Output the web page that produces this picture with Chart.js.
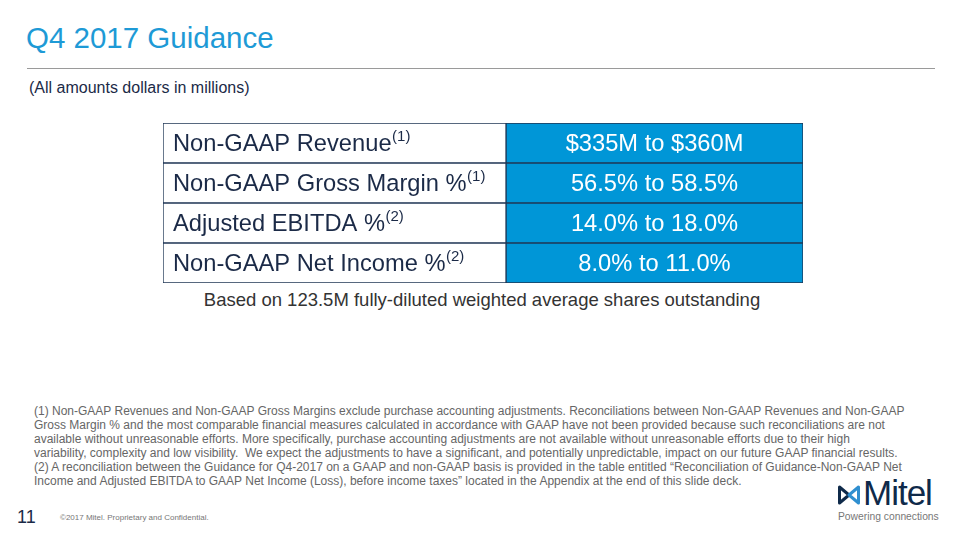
<!DOCTYPE html>
<html>
<head>
<meta charset="utf-8">
<script src="https://cdn.jsdelivr.net/npm/chart.js@4/dist/chart.umd.min.js"></script>
<style>
  body { margin: 0; width: 960px; height: 540px; background: #fff; position: relative; overflow: hidden;
         font-family: "Liberation Sans", Arial, sans-serif; }
  .abs { position: absolute; }
  #title { left: 26px; top: 21px; font-size: 29.5px; color: #1E9AD6; }
  #rule { left: 27px; top: 68px; width: 908px; height: 1px; background: #9a9a9a; }
  #sub { left: 29px; top: 79px; font-size: 16px; color: #1B2A47; }
  #wrap { left: 161px; top: 121px; width: 644px; height: 164px; }
  #basis { left: 0; width: 964px; top: 289px; text-align: center; font-size: 18.5px; color: #333; }
  #notes { left: 34px; top: 404px; font-size: 12px; line-height: 14px; color: #666; white-space: nowrap; }
  #page { left: 17px; top: 507px; font-size: 18px; color: #1B2A47; }
  #copy { left: 60px; top: 513px; font-size: 8px; color: #777; }
  #logo { left: 837px; top: 473px; font-size: 35px; color: #0F2A4A; letter-spacing: -1px; }
  #tag { left: 838px; top: 511px; font-size: 10.3px; color: #777; }
</style>
</head>
<body>
<div id="title" class="abs">Q4 2017 Guidance</div>
<div id="rule" class="abs"></div>
<div id="sub" class="abs">(All amounts dollars in millions)</div>
<div id="wrap" class="abs"><canvas id="table"></canvas></div>
<div id="basis" class="abs">Based on 123.5M fully-diluted weighted average shares outstanding</div>
<div id="notes" class="abs">(1) Non-GAAP Revenues and Non-GAAP Gross Margins exclude purchase accounting adjustments. Reconciliations between Non-GAAP Revenues and Non-GAAP<br>Gross Margin % and the most comparable financial measures calculated in accordance with GAAP have not been provided because such reconciliations are not<br>available without unreasonable efforts. More specifically, purchase accounting adjustments are not available without unreasonable efforts due to their high<br>variability, complexity and low visibility.&nbsp; We expect the adjustments to have a significant, and potentially unpredictable, impact on our future GAAP financial results.<br>(2) A reconciliation between the Guidance for Q4-2017 on a GAAP and non-GAAP basis is provided in the table entitled “Reconciliation of Guidance-Non-GAAP Net<br>Income and Adjusted EBITDA to GAAP Net Income (Loss), before income taxes” located in the Appendix at the end of this slide deck.</div>
<div id="page" class="abs">11</div>
<div id="copy" class="abs">©2017 Mitel. Proprietary and Confidential.</div>
<div id="logo" class="abs"><svg width="24" height="22" viewBox="0 0 24 22" style="vertical-align:-1px;margin-right:2px"><path d="M2.5 3 L12 11 L2.5 19 Z" fill="none" stroke="#0F2A4A" stroke-width="3" stroke-linejoin="round"/><path d="M21.5 3 L12 11 L21.5 19 Z" fill="none" stroke="#2F8FD0" stroke-width="3" stroke-linejoin="round"/></svg>Mitel</div>
<div id="tag" class="abs">Powering connections</div>

<script>
const metrics = ['Non-GAAP Revenue', 'Non-GAAP Gross Margin %', 'Adjusted EBITDA %', 'Non-GAAP Net Income %'];
const footnoteRefs = ['(1)', '(1)', '(2)', '(2)'];
const guidance = ['$335M to $360M', '56.5% to 58.5%', '14.0% to 18.0%', '8.0% to 11.0%'];

// column split of the table (share of the width)
const split = 0.536;
const border = '#1F3655';

const cellText = {
  id: 'cellText',
  afterDatasetsDraw(chart) {
    const ctx = chart.ctx;
    ctx.save();
    ctx.textBaseline = 'middle';
    chart.getDatasetMeta(0).data.forEach((bar, i) => {
      const x = Math.min(bar.x, bar.base) + 10;
      ctx.font = '23.7px "Liberation Sans", Arial, sans-serif';
      ctx.fillStyle = '#1B2A47';
      ctx.textAlign = 'left';
      ctx.fillText(metrics[i], x, bar.y + 1);
      const w = ctx.measureText(metrics[i]).width;
      ctx.font = '15px "Liberation Sans", Arial, sans-serif';
      ctx.fillText(footnoteRefs[i], x + w + 0.5, bar.y - 6);
    });
    chart.getDatasetMeta(1).data.forEach((bar, i) => {
      ctx.font = '23.7px "Liberation Sans", Arial, sans-serif';
      ctx.fillStyle = '#ffffff';
      ctx.textAlign = 'center';
      ctx.fillText(guidance[i], (bar.x + bar.base) / 2, bar.y + 1);
    });
    ctx.restore();
  }
};

new Chart(document.getElementById('table'), {
  type: 'bar',
  data: {
    labels: metrics,
    datasets: [
      {
        data: metrics.map(() => [0, split]),
        backgroundColor: '#ffffff',
        borderColor: border,
        borderWidth: 1,
        borderSkipped: false,
        grouped: false,
        categoryPercentage: 1,
        barPercentage: 1
      },
      {
        data: guidance.map(() => [split, 1]),
        backgroundColor: '#0096D7',
        borderColor: border,
        borderWidth: 1,
        borderSkipped: false,
        grouped: false,
        categoryPercentage: 1,
        barPercentage: 1
      }
    ]
  },
  options: {
    indexAxis: 'y',
    responsive: true,
    maintainAspectRatio: false,
    animation: false,
    layout: { padding: 2 },
    scales: {
      x: { display: false, min: 0, max: 1 },
      y: { display: false }
    },
    plugins: {
      legend: { display: false },
      tooltip: { enabled: false }
    }
  },
  plugins: [cellText]
});
</script>
</body>
</html>
